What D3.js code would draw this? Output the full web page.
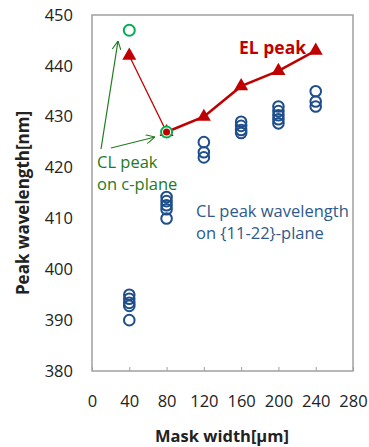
<!DOCTYPE html>
<html>
<head>
<meta charset="utf-8">
<script src="https://cdn.jsdelivr.net/npm/d3@7"></script>
<style>
  body { margin: 0; background: #fff; }
  text { font-family: "Open Sans", sans-serif; }
</style>
</head>
<body>
<script>
// chart data
var maskWidths = [40, 80, 120, 160, 200, 240]
var elPeak = [442, 427, 430, 436, 439, 443]
var clCplaneX = [40, 80]
var clCplane = [447, 427]
var clSemiX = [40, 80, 120, 160, 200, 240]
var clSemi = [
    [395, 394.2, 393.4, 392.8, 390],
    [414.2, 413.4, 412.6, 411.8, 410],
    [425, 423, 422],
    [429, 428.2, 427.4, 426.8],
    [432, 431.1, 430.3, 429.5, 428.7],
    [435, 433, 432]
]
var xTicks = [0, 40, 80, 120, 160, 200, 240, 280]
var yTicks = [380, 390, 400, 410, 420, 430, 440, 450]

var red = "#c00000", green = "#00b050", darkGreen = "#1e7b1e", blue = "#1f4e8c"
var plotL = 92, plotR = 353, plotT = 15, plotB = 371

var svg = d3.select("body").append("svg")
    .attr("width", 369)
    .attr("height", 447)

var x = d3.scaleLinear().domain([0, 280]).range([plotL, plotR])
var y = d3.scaleLinear().domain([380, 450]).range([plotB, plotT])

svg.append("defs").append("marker")
    .attr("id", "arrow")
    .attr("viewBox", "0 0 10 10")
    .attr("refX", 10).attr("refY", 5)
    .attr("markerWidth", 9).attr("markerHeight", 9)
    .attr("markerUnits", "userSpaceOnUse")
    .attr("orient", "auto")
    .append("path")
    .attr("d", "M0,0 L10,5 L0,10")
    .attr("fill", "none")
    .attr("stroke", darkGreen)
    .attr("stroke-width", 1.2)

// frame
svg.append("rect")
    .attr("x", plotL).attr("y", plotT)
    .attr("width", plotR - plotL).attr("height", plotB - plotT)
    .attr("fill", "none").attr("stroke", "#a0a0a0").attr("stroke-width", 1.5)

// x axis
var xAxis = svg.append("g")
    .attr("transform", "translate(0," + plotB + ")")
    .call(d3.axisBottom(x).tickValues(xTicks).tickSize(-4).tickPadding(24).tickFormat(d3.format("d")))
xAxis.select(".domain").remove()
xAxis.selectAll("line").attr("stroke", "#a0a0a0")
xAxis.selectAll("text").attr("font-size", 16.5).attr("fill", "#222")

// y axis
var yAxis = svg.append("g")
    .attr("transform", "translate(" + plotL + ",0)")
    .call(d3.axisLeft(y).tickValues(yTicks).tickSize(0).tickPadding(19))
yAxis.select(".domain").remove()
yAxis.selectAll("text").attr("font-size", 16.5).attr("fill", "#222")

// axis titles
svg.append("text")
    .attr("x", 222).attr("y", 442)
    .attr("text-anchor", "middle")
    .attr("font-size", 16.5).attr("font-weight", "bold").attr("fill", "#222")
    .text("Mask width[μm]")

svg.append("text")
    .attr("transform", "translate(29,203) rotate(-90)")
    .attr("text-anchor", "middle")
    .attr("font-size", 17).attr("font-weight", "bold").attr("fill", "#222")
    .text("Peak wavelength[nm]")

// CL peak on {11-22}
var semiPts = []
clSemiX.forEach(function(mx, i) {
    clSemi[i].forEach(function(v) { semiPts.push([mx, v]) })
})
svg.append("g").selectAll("circle")
    .data(semiPts)
    .join("circle")
    .attr("cx", function(d) { return x(d[0]) })
    .attr("cy", function(d) { return y(d[1]) })
    .attr("r", 5.3)
    .attr("fill", "none")
    .attr("stroke", blue)
    .attr("stroke-width", 2)

// EL line: thin first segment, thick afterwards
var line = d3.line()
    .x(function(d) { return x(d[0]) })
    .y(function(d) { return y(d[1]) })
var elPts = maskWidths.map(function(m, i) { return [m, elPeak[i]] })
svg.append("path")
    .attr("d", line(elPts.slice(0, 2)))
    .attr("fill", "none").attr("stroke", red).attr("stroke-width", 1.3)
svg.append("path")
    .attr("d", line(elPts.slice(1)))
    .attr("fill", "none").attr("stroke", red).attr("stroke-width", 2.5)

var tri = d3.symbol().type(d3.symbolTriangle).size(85)
svg.append("g").selectAll("path")
    .data(elPts)
    .join("path")
    .attr("transform", function(d) { return "translate(" + x(d[0]) + "," + y(d[1]) + ")" })
    .attr("d", tri)
    .attr("fill", red)

// CL peak on c-plane
var cPts = clCplaneX.map(function(m, i) { return [m, clCplane[i]] })
svg.append("g").selectAll("circle")
    .data(cPts)
    .join("circle")
    .attr("cx", function(d) { return x(d[0]) })
    .attr("cy", function(d) { return y(d[1]) })
    .attr("r", 5.5)
    .attr("fill", function(d, i) { return i == 1 ? "#fff" : "none" })
    .attr("stroke", green)
    .attr("stroke-width", 2)
svg.append("circle")
    .attr("cx", x(80)).attr("cy", y(427))
    .attr("r", 3.5).attr("fill", red)

// arrows
svg.append("line")
    .attr("x1", 101).attr("y1", 149).attr("x2", 118).attr("y2", 41)
    .attr("stroke", darkGreen).attr("stroke-width", 1.2)
    .attr("marker-end", "url(#arrow)")
svg.append("line")
    .attr("x1", 111).attr("y1", 148).attr("x2", 155).attr("y2", 137)
    .attr("stroke", darkGreen).attr("stroke-width", 1.2)
    .attr("marker-end", "url(#arrow)")

// labels
svg.append("text")
    .attr("x", 239).attr("y", 54)
    .attr("font-size", 17.5).attr("font-weight", "bold").attr("fill", red)
    .text("EL peak")

svg.append("text")
    .attr("x", 97).attr("y", 168)
    .attr("font-size", 16.5).attr("fill", darkGreen)
    .text("CL peak")
svg.append("text")
    .attr("x", 97).attr("y", 190)
    .attr("font-size", 16.5).attr("fill", darkGreen)
    .text("on c-plane")

svg.append("text")
    .attr("x", 196).attr("y", 217)
    .attr("font-size", 16.5).attr("fill", "#2e5a8c")
    .text("CL peak wavelength")
svg.append("text")
    .attr("x", 196).attr("y", 239)
    .attr("font-size", 16.5).attr("fill", "#2e5a8c")
    .text("on {11-22}-plane")
</script>
</body>
</html>
